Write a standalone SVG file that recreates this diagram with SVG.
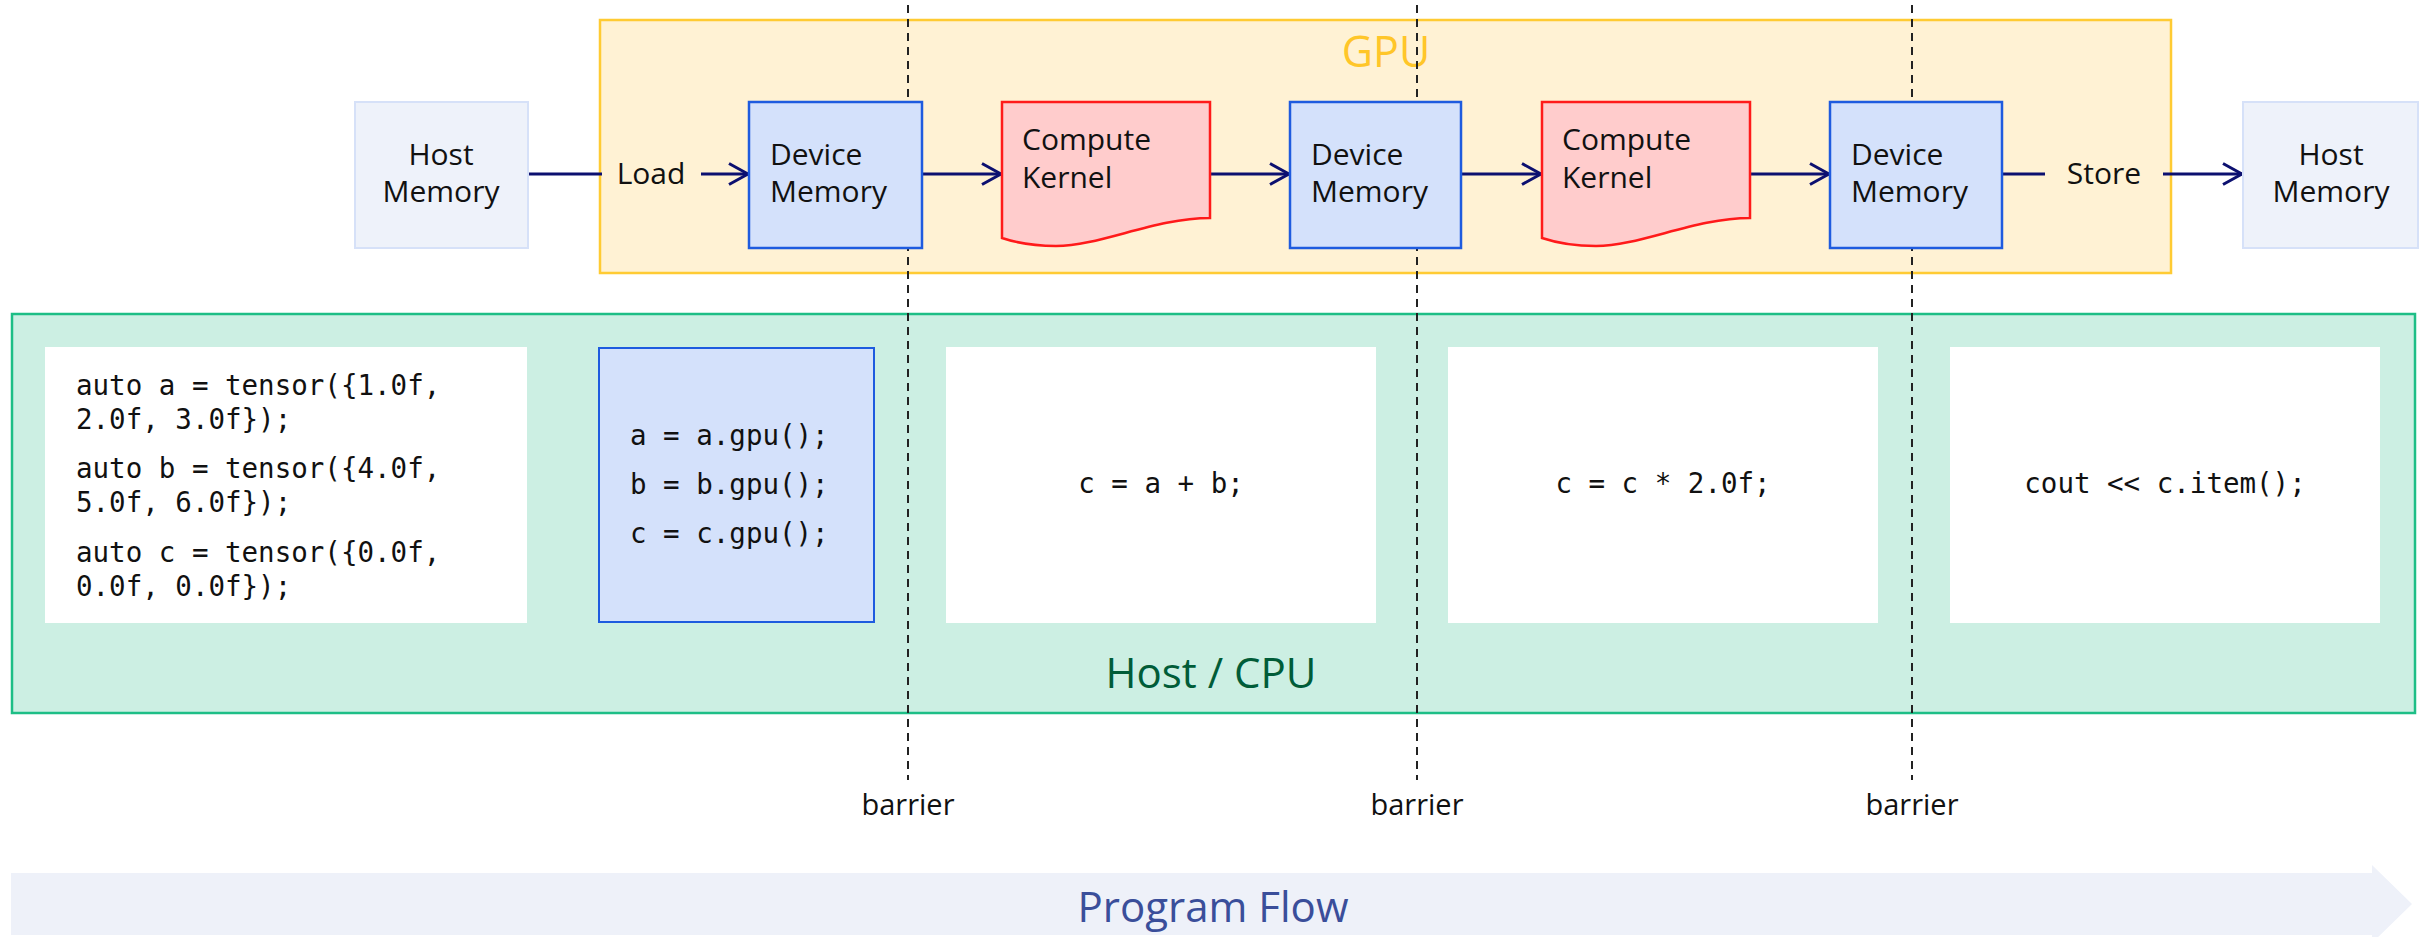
<svg xmlns="http://www.w3.org/2000/svg" width="2430" height="937" viewBox="0 0 2430 937">
  <style>
    .label { font-family: "Open Sans", "Liberation Sans", sans-serif; font-weight: 500; fill: #111111; }
    .code { font-family: "DejaVu Sans Mono", "Liberation Mono", monospace; font-size: 27.5px; fill: #111111; }
    .host { fill: #EEF2FA; stroke: #D6E1F8; stroke-width: 2; }
    .device { fill: #D4E1FB; stroke: #1E5BDF; stroke-width: 2.5; }
    .kernel { fill: #FFCCCC; stroke: #FF1A1A; stroke-width: 2.5; }
    .codebox { fill: #FFFFFF; }
    .flow { fill: none; stroke: #0C1070; stroke-width: 3; }
    .barrier { fill: none; stroke: #222222; stroke-width: 2; stroke-dasharray: 8 6; }
  </style>
  <defs>
    <marker id="chevron" markerUnits="userSpaceOnUse" viewBox="-22 -13 25 26" refX="0" refY="0" markerWidth="25" markerHeight="26" orient="auto">
      <path d="M-19,-10.5 L0,0 L-19,10.5" fill="none" stroke="#0C1070" stroke-width="3" stroke-linejoin="miter"/>
    </marker>
  </defs>

  <rect width="2430" height="937" fill="#FFFFFF"/>

  <!-- Program flow band -->
  <g id="program-flow">
    <path d="M11,873 H2372 V865 L2412,904 L2372,943 V935 H11 Z" fill="#EEF1F9"/>
    <text class="label" x="1213" y="922" font-size="42" text-anchor="middle" fill="#3A4E9A" style="fill:#3A4E9A">Program Flow</text>
  </g>

  <!-- Containers -->
  <g id="gpu">
    <rect x="600" y="20" width="1571" height="253" fill="#FFF2D4" stroke="#FFCB33" stroke-width="2.5"/>
    <text class="label" x="1386" y="67" font-size="43" text-anchor="middle" style="fill:#FFC629">GPU</text>
  </g>
  <g id="host-cpu">
    <rect x="12" y="314" width="2403" height="399" fill="#CCEFE3" stroke="#1DBE86" stroke-width="2.5"/>
    <text class="label" x="1211" y="688" font-size="42" text-anchor="middle" style="fill:#005C38">Host / CPU</text>
  </g>

  <!-- Synchronisation barriers -->
  <g id="barriers">
    <line class="barrier" x1="908" y1="5" x2="908" y2="780"/>
    <line class="barrier" x1="1417" y1="5" x2="1417" y2="780"/>
    <line class="barrier" x1="1912" y1="5" x2="1912" y2="780"/>
    <text class="label" x="908" y="815" font-size="29" text-anchor="middle">barrier</text>
    <text class="label" x="1417" y="815" font-size="29" text-anchor="middle">barrier</text>
    <text class="label" x="1912" y="815" font-size="29" text-anchor="middle">barrier</text>
  </g>

  <!-- Data-flow connectors -->
  <g id="connectors">
    <line class="flow" x1="528" y1="174" x2="602" y2="174"/>
    <text class="label" x="651" y="184" font-size="30" text-anchor="middle">Load</text>
    <line class="flow" x1="701" y1="174" x2="748" y2="174" marker-end="url(#chevron)"/>
    <line class="flow" x1="922" y1="174" x2="1001" y2="174" marker-end="url(#chevron)"/>
    <line class="flow" x1="1210" y1="174" x2="1289" y2="174" marker-end="url(#chevron)"/>
    <line class="flow" x1="1461" y1="174" x2="1541" y2="174" marker-end="url(#chevron)"/>
    <line class="flow" x1="1750" y1="174" x2="1829" y2="174" marker-end="url(#chevron)"/>
    <line class="flow" x1="2002" y1="174" x2="2045" y2="174"/>
    <text class="label" x="2104" y="184" font-size="30" text-anchor="middle">Store</text>
    <line class="flow" x1="2163" y1="174" x2="2242" y2="174" marker-end="url(#chevron)"/>
  </g>

  <!-- GPU pipeline nodes -->
  <g id="host-memory-in">
    <rect class="host" x="355" y="102" width="173" height="146"/>
    <text class="label" font-size="30" text-anchor="middle"><tspan x="441" y="165">Host</tspan><tspan x="441" y="202">Memory</tspan></text>
  </g>
  <g id="device-memory-1">
    <rect class="device" x="749" y="102" width="173" height="146"/>
    <text class="label" font-size="30"><tspan x="770" y="165">Device</tspan><tspan x="770" y="202">Memory</tspan></text>
  </g>
  <g id="compute-kernel-1">
    <path class="kernel" d="M1002,102 H1210 V218 C1155,218 1100,246 1056,246 C1032,246 1014,242 1002,238 Z"/>
    <text class="label" font-size="30"><tspan x="1022" y="150">Compute</tspan><tspan x="1022" y="188">Kernel</tspan></text>
  </g>
  <g id="device-memory-2">
    <rect class="device" x="1290" y="102" width="171" height="146"/>
    <text class="label" font-size="30"><tspan x="1311" y="165">Device</tspan><tspan x="1311" y="202">Memory</tspan></text>
  </g>
  <g id="compute-kernel-2">
    <path class="kernel" d="M1542,102 H1750 V218 C1695,218 1640,246 1596,246 C1572,246 1554,242 1542,238 Z"/>
    <text class="label" font-size="30"><tspan x="1562" y="150">Compute</tspan><tspan x="1562" y="188">Kernel</tspan></text>
  </g>
  <g id="device-memory-3">
    <rect class="device" x="1830" y="102" width="172" height="146"/>
    <text class="label" font-size="30"><tspan x="1851" y="165">Device</tspan><tspan x="1851" y="202">Memory</tspan></text>
  </g>
  <g id="host-memory-out">
    <rect class="host" x="2243" y="102" width="175" height="146"/>
    <text class="label" font-size="30" text-anchor="middle"><tspan x="2331" y="165">Host</tspan><tspan x="2331" y="202">Memory</tspan></text>
  </g>

  <!-- Host code stages -->
  <g id="code-init">
    <rect class="codebox" x="45" y="347" width="482" height="276"/>
    <text class="code" xml:space="preserve"><tspan x="76" y="395">auto a = tensor({1.0f,</tspan><tspan x="76" y="429">2.0f, 3.0f});</tspan><tspan x="76" y="478">auto b = tensor({4.0f,</tspan><tspan x="76" y="512">5.0f, 6.0f});</tspan><tspan x="76" y="562">auto c = tensor({0.0f,</tspan><tspan x="76" y="596">0.0f, 0.0f});</tspan></text>
  </g>
  <g id="code-transfer">
    <rect x="599" y="348" width="275" height="274" fill="#D4E1FB" stroke="#1E5BDF" stroke-width="2"/>
    <text class="code"><tspan x="630" y="445">a = a.gpu();</tspan><tspan x="630" y="494">b = b.gpu();</tspan><tspan x="630" y="543">c = c.gpu();</tspan></text>
  </g>
  <g id="code-add">
    <rect class="codebox" x="946" y="347" width="430" height="276"/>
    <text class="code" x="1161" y="493" text-anchor="middle">c = a + b;</text>
  </g>
  <g id="code-scale">
    <rect class="codebox" x="1448" y="347" width="430" height="276"/>
    <text class="code" x="1663" y="493" text-anchor="middle">c = c * 2.0f;</text>
  </g>
  <g id="code-print">
    <rect class="codebox" x="1950" y="347" width="430" height="276"/>
    <text class="code" x="2165" y="493" text-anchor="middle">cout &lt;&lt; c.item();</text>
  </g>
</svg>
